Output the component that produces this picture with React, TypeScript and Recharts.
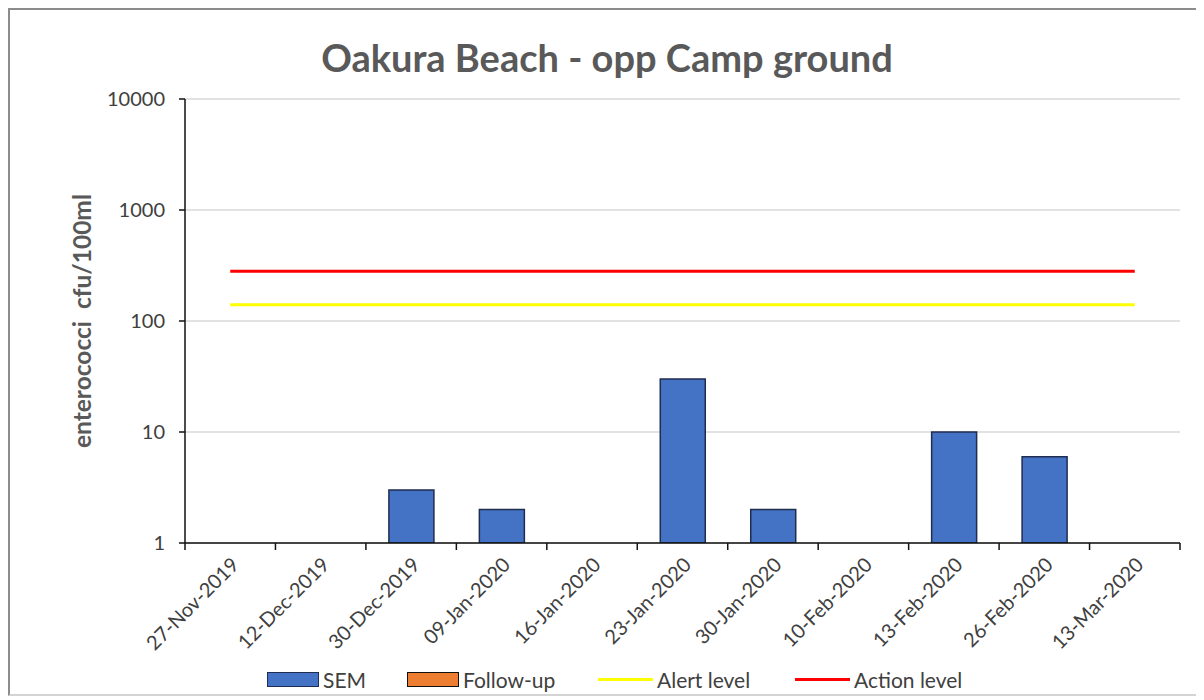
import React from 'react';
import { ComposedChart, Bar, Line, XAxis, YAxis, CartesianGrid } from 'recharts';

const categories = [
  '27-Nov-2019',
  '12-Dec-2019',
  '30-Dec-2019',
  '09-Jan-2020',
  '16-Jan-2020',
  '23-Jan-2020',
  '30-Jan-2020',
  '10-Feb-2020',
  '13-Feb-2020',
  '26-Feb-2020',
  '13-Mar-2020',
];
const semValues = [1, 1, 3, 2, 1, 30, 2, 1, 10, 6, 1];
const followUpValues = [null, null, null, null, null, null, null, null, null, null, null];
const alertLevel = [140, 140, 140, 140, 140, 140, 140, 140, 140, 140, 140];
const actionLevel = [280, 280, 280, 280, 280, 280, 280, 280, 280, 280, 280];
const yTicks = [1, 10, 100, 1000, 10000];

const legendItems = [
  { name: 'SEM', kind: 'bar', fill: '#4472c4', stroke: '#1f2d50' },
  { name: 'Follow-up', kind: 'bar', fill: '#ed7d31', stroke: '#111' },
  { name: 'Alert level', kind: 'line', fill: '#ffff00', stroke: '#ffff00' },
  { name: 'Action level', kind: 'line', fill: '#ff0000', stroke: '#ff0000' },
];

const data = categories.map((date, i) => ({
  date,
  sem: semValues[i],
  followUp: followUpValues[i],
  alert: alertLevel[i],
  action: actionLevel[i],
}));

const W = 1194;
const H = 684;
const M = { top: 89, right: 24, left: 0, bottom: 51 };
const Y_AXIS_W = 175;
const STEP = (W - M.left - M.right - Y_AXIS_W) / categories.length;
const FONT = 'Lato, "Open Sans", sans-serif';
// legend entry x offsets inside the frame
const LEGEND_X = [257, 397, 588, 785];

const XTick = (props: any) => {
  const { x, y, payload, index } = props;
  const axisY = y - 11;
  const tx = x + 10;
  const ty = y + 12;
  return (
    <g>
      {index === 0 && (
        <line x1={x - STEP / 2} x2={x - STEP / 2} y1={axisY} y2={axisY + 7} stroke="#111" strokeWidth={1.5} />
      )}
      <line x1={x + STEP / 2} x2={x + STEP / 2} y1={axisY} y2={axisY + 7} stroke="#111" strokeWidth={1.5} />
      <text
        x={tx}
        y={ty}
        transform={`rotate(-45 ${tx} ${ty})`}
        textAnchor="end"
        fontSize={20}
        fill="#404040"
        fontFamily={FONT}
      >
        {payload.value}
      </text>
    </g>
  );
};

const YLabel = (props: any) => {
  const { x, y, height } = props.viewBox;
  const cx = x + 75;
  const cy = y + height / 2;
  return (
    <text
      x={cx}
      y={cy}
      transform={`rotate(-90 ${cx} ${cy})`}
      textAnchor="middle"
      dominantBaseline="middle"
      fontSize={24.5}
      fontWeight={700}
      fill="#595959"
      fontFamily={FONT}
      style={{ whiteSpace: 'pre' }}
    >
      {'enterococci  cfu/100ml'}
    </text>
  );
};

export default function App() {
  return (
    <div
      style={{
        position: 'relative',
        width: W,
        height: H,
        borderTop: '2px solid #8c8c8c',
        borderLeft: '2px solid #8c8c8c',
        borderBottom: '2px solid #d4d4d4',
        fontFamily: FONT,
      }}
    >
      <div
        style={{
          position: 'absolute',
          left: 0,
          top: 25,
          width: W,
          textAlign: 'center',
          fontSize: 38,
          lineHeight: '44px',
          fontWeight: 700,
          color: '#595959',
        }}
      >
        Oakura Beach - opp Camp ground
      </div>
      <ComposedChart width={W} height={H} data={data} margin={M}>
        <CartesianGrid vertical={false} stroke="#d9d9d9" strokeWidth={1.5} />
        <XAxis
          dataKey="date"
          interval={0}
          height={100}
          tickSize={7}
          tickMargin={4}
          tickLine={false}
          axisLine={{ stroke: '#111', strokeWidth: 1.5 }}
          tick={<XTick />}
        />
        <XAxis xAxisId="f" dataKey="date" hide />
        <YAxis
          scale="log"
          type="number"
          domain={[1, 10000]}
          ticks={yTicks}
          allowDataOverflow
          width={Y_AXIS_W}
          tickSize={6}
          tickMargin={14}
          axisLine={{ stroke: '#111', strokeWidth: 1.5 }}
          tickLine={{ stroke: '#111', strokeWidth: 1.5 }}
          tick={{ fontSize: 20, fill: '#404040', fontFamily: FONT }}
          label={<YLabel />}
        />
        <Bar dataKey="sem" fill="#4472c4" stroke="#1f2d50" strokeWidth={1.5} barSize={45} isAnimationActive={false} />
        <Bar xAxisId="f" dataKey="followUp" fill="#ed7d31" stroke="#111" barSize={45} isAnimationActive={false} />
        <Line dataKey="alert" stroke="#ffff00" strokeWidth={3} dot={false} isAnimationActive={false} />
        <Line dataKey="action" stroke="#ff0000" strokeWidth={3} dot={false} isAnimationActive={false} />
      </ComposedChart>
      {legendItems.map((item, i) => (
        <div
          key={item.name}
          style={{
            position: 'absolute',
            left: LEGEND_X[i],
            top: 655,
            height: 28,
            display: 'flex',
            alignItems: 'center',
            gap: 4,
            fontSize: 21,
            color: '#404040',
            whiteSpace: 'nowrap',
          }}
        >
          {item.kind === 'bar' ? (
            <span
              style={{
                display: 'inline-block',
                boxSizing: 'border-box',
                width: 52,
                height: 15,
                background: item.fill,
                border: `1.5px solid ${item.stroke}`,
              }}
            />
          ) : (
            <span style={{ display: 'inline-block', width: 55, height: 3, background: item.fill }} />
          )}
          <span>{item.name}</span>
        </div>
      ))}
    </div>
  );
}
